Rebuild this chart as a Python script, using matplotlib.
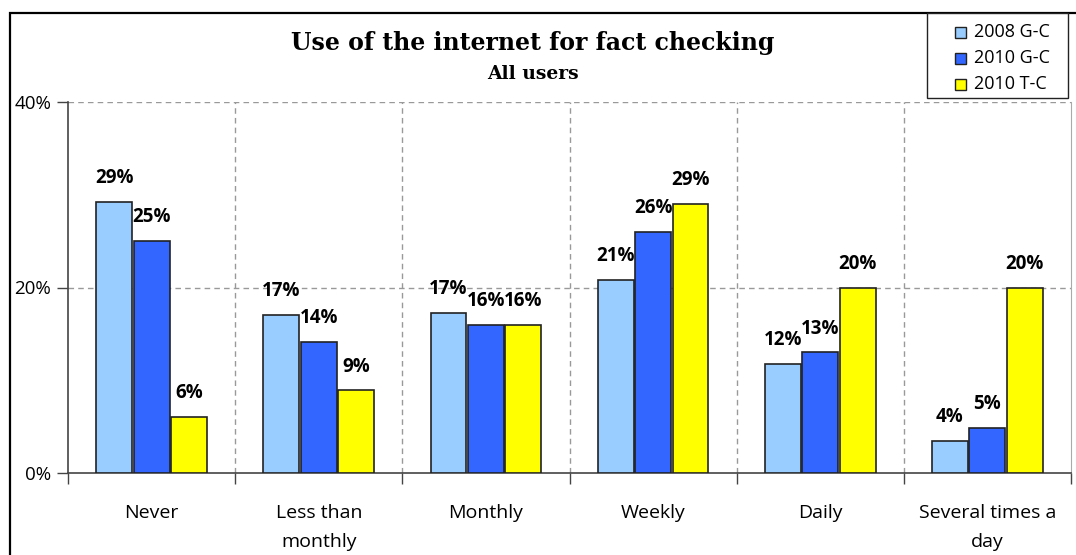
import matplotlib
matplotlib.use("Agg")
import matplotlib.pyplot as plt
import matplotlib.patches as mpatches
import numpy as np

categories = ["Never", "Less than\nmonthly", "Monthly", "Weekly", "Daily", "Several times a\nday"]
series_names = ["2008 G-C", "2010 G-C", "2010 T-C"]
v2008_gc = [29.2, 17.0, 17.3, 20.8, 11.8, 3.5]
v2010_gc = [25.0, 14.1, 16.0, 26.0, 13.0, 4.9]
v2010_tc = [6.0, 8.9, 16.0, 29.0, 20.0, 20.0]
labels_2008_gc = ["29%", "17%", "17%", "21%", "12%", "4%"]
labels_2010_gc = ["25%", "14%", "16%", "26%", "13%", "5%"]
labels_2010_tc = ["6%", "9%", "16%", "29%", "20%", "20%"]
yticks = [0, 20, 40]
ytick_labels = ["0%", "20%", "40%"]
colors = ["#99CCFF", "#3366FF", "#FFFF00"]

W, H = 1076, 555
fig = plt.figure(figsize=(W / 100, H / 100), dpi=100)
sans = "Open Sans"

ax = fig.add_axes([68 / W, (H - 473) / H, (1071 - 68) / W, (473 - 102) / H])

x = np.arange(len(categories))
bw = 0.215
step = 0.224
all_vals = [v2008_gc, v2010_gc, v2010_tc]
all_labels = [labels_2008_gc, labels_2010_gc, labels_2010_tc]
for i, (vals, labs, col, name) in enumerate(zip(all_vals, all_labels, colors, series_names)):
    pos = x + (i - 1) * step
    ax.bar(pos, vals, width=bw, color=col, edgecolor="#222222", linewidth=1.2,
           label=name, zorder=3)
    for p, v, t in zip(pos, vals, labs):
        ax.annotate(t, (p, v), xytext=(0, 10), textcoords="offset points",
                    ha="center", va="bottom", fontsize=13.5, fontweight="bold",
                    family=sans, color="black", zorder=4)

ax.set_xlim(-0.5, len(categories) - 0.5)
ax.set_ylim(0, 40)
ax.set_yticks(yticks)
ax.set_yticklabels(ytick_labels, family=sans, fontsize=13.5)
ax.set_xticks(x)
ax.set_xticklabels(categories, family=sans, fontsize=14, linespacing=1.85)
ax.tick_params(axis="x", which="major", length=0, pad=22)
ax.set_xticks(np.arange(-0.5, len(categories), 1), minor=True)
ax.tick_params(axis="x", which="minor", length=8, width=1, color="#444444")
ax.tick_params(axis="y", length=8, width=1, color="#444444", pad=4)

# gridlines
for yv in yticks[1:]:
    ax.axhline(yv, color="#999999", linestyle=(0, (4, 3)), linewidth=1, zorder=1)
for xv in np.arange(0.5, len(categories) - 0.5, 1):
    ax.axvline(xv, color="#999999", linestyle=(0, (4, 3)), linewidth=1, zorder=1)

ax.spines["top"].set_visible(False)
ax.spines["right"].set_color("#AAAAAA")
ax.spines["left"].set_color("#444444")
ax.spines["bottom"].set_color("#444444")
ax.spines["left"].set_linewidth(1.2)
ax.spines["bottom"].set_linewidth(1.2)

# Title
fig.text(533 / W, 1 - 43 / H, "Use of the internet for fact checking", ha="center", va="center",
         family="DejaVu Serif", fontweight="bold", fontsize=17)
fig.text(533 / W, 1 - 74 / H, "All users", ha="center", va="center",
         family="DejaVu Serif", fontweight="bold", fontsize=13.5)

# Legend (drawn manually to match the boxed layout)
fig.patches.append(mpatches.Rectangle((927 / W, 1 - 98 / H), 141 / W, 85 / H,
                                      transform=fig.transFigure, facecolor="white",
                                      edgecolor="#222222", linewidth=1, zorder=5))
for k, (name, col) in enumerate(zip(series_names, colors)):
    yc = 32 + 26 * k
    fig.patches.append(mpatches.Rectangle((955 / W, 1 - (yc + 6) / H), 11 / W, 11 / H,
                                          transform=fig.transFigure, facecolor=col,
                                          edgecolor="#222222", linewidth=1, zorder=6))
    fig.text(974 / W, 1 - yc / H, name, ha="left", va="center", family=sans,
             fontsize=13, zorder=6)

# Figure border (top and left visible)
fig.patches.append(mpatches.Rectangle((9.5 / W, -0.1), 1.2, (H - 12.5) / H + 0.1,
                                      transform=fig.transFigure, fill=False,
                                      edgecolor="black", linewidth=1.6))

fig.savefig("out.png", dpi=100)
